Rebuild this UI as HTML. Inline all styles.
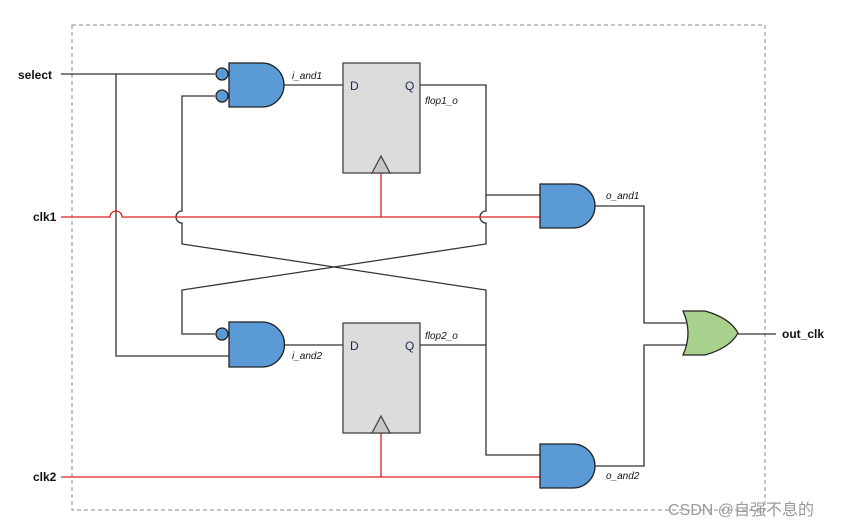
<!DOCTYPE html>
<html><head><meta charset="utf-8"><style>body{margin:0;background:#fff}svg{display:block}</style></head><body>
<svg width="857" height="526" xmlns="http://www.w3.org/2000/svg" font-family="Liberation Sans, sans-serif">
<rect x="72" y="25" width="693" height="485" fill="none" stroke="#888" stroke-dasharray="4,3"/>
<g stroke="#333" stroke-width="1.3" fill="none">
<path d="M61 74H215"/>
<path d="M116 74V356H229"/>
<path d="M215 96H182V211A6 6 0 0 0 182 223V244L486 290V455H540"/>
<path d="M420 85H486V211A6 6 0 0 0 486 223V244L182 290V334H215"/>
<path d="M486 195H540"/>
<path d="M284 85H343"/>
<path d="M284 345H343"/>
<path d="M420 345H486"/>
<path d="M595 206H644V323H686"/>
<path d="M595 466H644V345H686"/>
<path d="M738 334H776"/>
</g>
<g stroke="#e02020" stroke-width="1.3" fill="none">
<path d="M61 217H110A6 6 0 0 1 122 217H540"/>
<path d="M381 173V217"/>
<path d="M61 477H540"/>
<path d="M381 433V477"/>
</g>
<g fill="#5b9bd5" stroke="#222" stroke-width="1.3">
<path d="M229 63H262A22 22 0 0 1 262 107H229Z"/>
<circle cx="222" cy="74" r="6"/><circle cx="222" cy="96" r="6"/>
<path d="M229 322H262A22.5 22.5 0 0 1 262 367H229Z"/>
<circle cx="222" cy="334" r="6"/>
<path d="M540 184H573A22 22 0 0 1 573 228H540Z"/>
<path d="M540 444H573A22 22 0 0 1 573 488H540Z"/>
</g>
<path d="M683 311H705Q730 318 738 333Q730 348 705 355H683Q693 333 683 311Z" fill="#a9d18e" stroke="#222" stroke-width="1.3"/>
<g fill="#dcdcdc" stroke="#444" stroke-width="1.3">
<rect x="343" y="63" width="77" height="110"/>
<path d="M372 173L381 156L390 173Z" fill="#c8c8c8"/>
<rect x="343" y="323" width="77" height="110"/>
<path d="M372 433L381 416L390 433Z" fill="#c8c8c8"/>
</g>
<g font-size="12" fill="#1a2a4a">
<text x="350" y="90">D</text><text x="405" y="90">Q</text>
<text x="350" y="350">D</text><text x="405" y="350">Q</text>
</g>
<g font-size="10" font-style="italic" fill="#111">
<text x="292" y="79">i_and1</text>
<text x="425" y="104">flop1_o</text>
<text x="292" y="359">i_and2</text>
<text x="425" y="339">flop2_o</text>
<text x="606" y="199">o_and1</text>
<text x="606" y="479">o_and2</text>
</g>
<g font-size="12" font-weight="bold" fill="#111">
<text x="18" y="79">select</text>
<text x="33" y="221">clk1</text>
<text x="33" y="481">clk2</text>
<text x="782" y="338">out_clk</text>
</g>
<text x="668" y="515" font-size="16" fill="#999" font-family="Liberation Sans, Noto Sans CJK SC, sans-serif">CSDN @自强不息的</text>
</svg>
</body></html>
